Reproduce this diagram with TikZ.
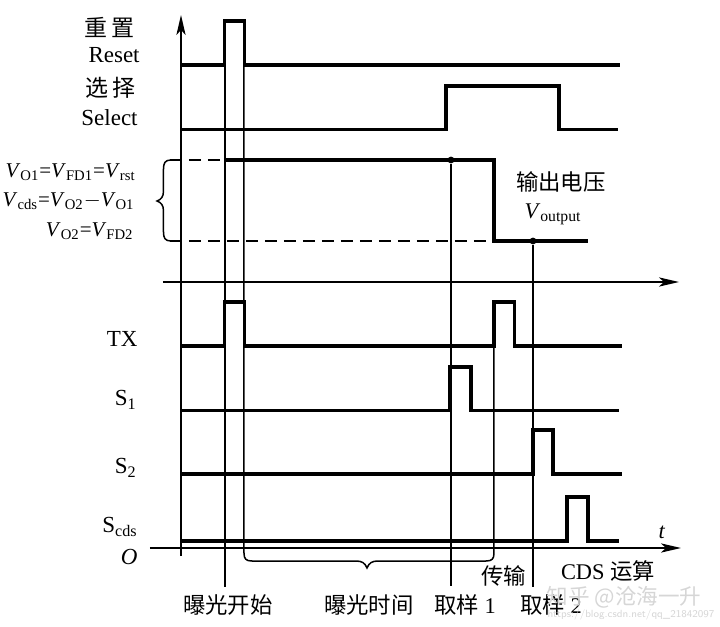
\documentclass[tikz,border=0pt]{standalone}
\usepackage{fontspec}
\setmainfont{Liberation Serif}
\newfontfamily\cjk{Noto Sans CJK SC}
\usetikzlibrary{arrows.meta}
\newcommand{\vsub}[1]{\textit{V}\textsubscript{#1}}

\begin{document}
\begin{tikzpicture}[x=0.5pt,y=-0.5pt,>={Stealth[length=10pt,width=4.6pt,inset=2.5pt]},
  signal/.style={line width=1.6pt,line join=miter},
  guide/.style={line width=0.75pt},
  lab/.style={anchor=east,inner sep=0pt,font=\fontsize{11.5}{12}\selectfont},
  eqn/.style={lab,font=\fontsize{10.5}{12}\selectfont},
  caption text/.style={inner sep=0pt,font=\fontsize{11.2}{12}\selectfont},
  dotnode/.style={circle,fill=black,inner sep=0pt,minimum size=3.4pt},
  mark text/.style={inner sep=0pt,text=black!16}]
\useasboundingbox (0,0) rectangle (720,627);

% Achsen
  \coordinate (ytop) at (181,15);
  \coordinate (ybot) at (181,556);
  \coordinate (mid0) at (163,282);
  \coordinate (mid1) at (679,282);
  \coordinate (o0) at (150,548);
  \coordinate (o1) at (681,548);
  \draw[guide,->] (ybot) -- (ytop);
  \draw[guide,->] (mid0) -- (mid1);
  \draw[guide,->] (o0) -- (o1);

% Signale: Hoehe / Anstieg / Abfall / Spitze / Ende
  \foreach \y/\a/\b/\s/\e in {65/224.5/244.5/21/620,129.5/446/559/86/618,410.5/450/471/367/619,474/533/553/430/622,541/567/588/497/619}
    \draw[signal] (181,\y) -| (\a,\s) -| (\b,\y) -- (\e,\y);
  \draw[signal] (181,346) -| (224.5,302) -| (244.5,346) -| (494,302) -| (514.5,346) -- (622,346); % TX hat zwei Pulse
  \draw[signal] (224,160) -| (494,241) -- (588,241); % Ausgangsspannung

% Hilfslinien
  \node[dotnode] (s1) at (451,160) {};
  \node[dotnode] (s2) at (533,241) {};
  \coordinate (s1end) at (451,586);
  \coordinate (s2end) at (533,587);
  \coordinate (tstart) at (225,65);
  \coordinate (tend) at (225,587);
  \draw[guide] (s1) -- (s1end);
  \draw[guide] (s2) -- (s2end);
  \draw[guide] (tstart) -- (tend);
  \draw[guide,dash pattern=on 6pt off 3.5pt] (170,160) -- (224,160);
  \draw[guide,dash pattern=on 6pt off 3.5pt] (170,241) -- (494,241);

% Klammern
  \draw[guide] (171,160) .. controls (165,160) and (163.5,163) .. (163.5,169) -- (163.5,191)
    .. controls (163.5,197) and (161,199.5) .. (157,201) .. controls (161,202.5) and (163.5,205) .. (163.5,211)
    -- (163.5,232) .. controls (163.5,238) and (165,241) .. (171,241);
  \draw[guide] (244,65) -- (244,553) .. controls (244,559) and (246,561) .. (252,561) -- (356,561)
    .. controls (362,561) and (365,563) .. (367,568) .. controls (369,563) and (372,561) .. (378,561)
    -- (486,561) .. controls (492,561) and (494,559) .. (494,553) -- (494,346);

% Beschriftung links
  \node[lab] (reset cn) at (135,27) {\cjk 重\,置};
  \node[lab] (reset) at (140,55) {Reset};
  \node[lab] (select cn) at (136,88) {\cjk 选\,择};
  \node[lab] (select) at (138,118) {Select};
  \node[eqn] (vo1) at (136,172) {\vsub{O1}=\vsub{FD1}=\vsub{rst}};
  \node[eqn] (vcds) at (135,201) {\vsub{cds}=\vsub{O2}$-$\vsub{O1}};
  \node[eqn] (vo2) at (134,231) {\vsub{O2}=\vsub{FD2}};
  \node[lab] (tx) at (138,339) {TX};
  \node[lab] (sa) at (137,400) {S\textsubscript{1}};
  \node[lab] (sb) at (137,468) {S\textsubscript{2}};
  \node[lab] (scds) at (138,527) {S\textsubscript{cds}};
  \node[lab] (origin) at (138,557) {\textit{O}};

% Beschriftung rechts und unten
  \node[caption text] (out cn) at (561,182) {\cjk 输出电压};
  \node[caption text] (out) at (553,214) {\vsub{output}};
  \node[caption text] (time) at (662,532) {\textit{t}};
  \node[caption text] (start) at (228,605) {\cjk 曝光开始};
  \node[caption text] (expo) at (369,605) {\cjk 曝光时间};
  \node[caption text] (samp a) at (465,605) {{\cjk 取样} 1};
  \node[caption text] (samp b) at (551,605) {{\cjk 取样} 2};
  \node[caption text] (trans) at (504,576) {\cjk 传输};
  \node[caption text] (cds) at (608,571) {CDS {\cjk 运算}};

% Wasserzeichen
  \node[mark text,font=\fontsize{10.8}{13}\selectfont] (wm) at (624,597) {\cjk 知乎 @沧海一升};
  \node[mark text,font=\fontsize{5.2}{7}\selectfont\sffamily] (url) at (631,615) {https://blog.csdn.net/qq\_21842097};
\end{tikzpicture}
\end{document}
